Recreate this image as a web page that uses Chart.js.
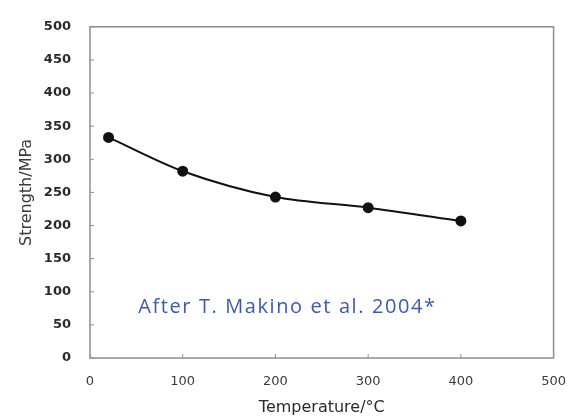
<!DOCTYPE html>
<html>
<head>
<meta charset="utf-8">
<script src="https://cdn.jsdelivr.net/npm/chart.js@4"></script>
<style>
  html, body { margin: 0; padding: 0; background: #fff; }
  #wrap { width: 582px; height: 420px; position: relative; }
</style>
</head>
<body>
<div id="wrap"><canvas id="strengthChart"></canvas></div>
<script>
// --- data ---
const temperatures = [20, 100, 200, 300, 400];
const strengths = [333, 282, 243, 227, 207];
const xTicks = [0, 100, 200, 300, 400, 500];
const yTicks = [0, 50, 100, 150, 200, 250, 300, 350, 400, 450, 500];
const noteText = 'After T. Makino et al. 2004*';

const axisGray = '#8f8f8f';

// box round the plot plus the small inward tick marks
const framePlugin = {
    id: 'frame',
    afterDraw(chart) {
        const { ctx, chartArea: a, scales } = chart;
        ctx.save();
        ctx.strokeStyle = axisGray;
        ctx.lineWidth = 1.5;
        ctx.strokeRect(a.left, a.top, a.right - a.left, a.bottom - a.top);
        ctx.lineWidth = 1;
        yTicks.forEach(v => {
            const y = scales.y.getPixelForValue(v);
            ctx.beginPath();
            ctx.moveTo(a.left, y);
            ctx.lineTo(a.left + 4, y);
            ctx.stroke();
        });
        xTicks.forEach(v => {
            const x = scales.x.getPixelForValue(v);
            ctx.beginPath();
            ctx.moveTo(x, a.bottom);
            ctx.lineTo(x, a.bottom - 4);
            ctx.stroke();
        });
        // source note
        ctx.fillStyle = 'rgb(60, 90, 168)';
        ctx.font = '400 20px "Open Sans"';
        ctx.letterSpacing = '1.6px';
        ctx.textBaseline = 'middle';
        ctx.fillText(noteText, scales.x.getPixelForValue(52), scales.y.getPixelForValue(77));
        ctx.restore();
    }
};

const ctx = document.getElementById('strengthChart').getContext('2d');
const strengthChart = new Chart(ctx, {
    type: 'line',
    data: {
        datasets: [{
            data: temperatures.map((t, i) => ({ x: t, y: strengths[i] })),
            borderColor: '#111',
            backgroundColor: '#111',
            borderWidth: 2,
            pointRadius: 4.5,
            tension: 0.3
        }]
    },
    options: {
        responsive: true,
        maintainAspectRatio: false,
        animation: false,
        layout: { padding: { left: 0, top: 9, right: 27, bottom: 0 } },
        plugins: {
            legend: { display: false },
            tooltip: { enabled: false }
        },
        scales: {
            x: {
                type: 'linear',
                min: 0,
                max: 500,
                afterBuildTicks: s => { s.ticks = xTicks.map(v => ({ value: v })); },
                afterFit: s => { s.height = 62; },
                grid: { display: false, drawTicks: false },
                border: { display: false },
                ticks: {
                    padding: 16,
                    color: '#3a3a3a',
                    font: { family: 'DejaVu Sans', size: 13 }
                },
                title: {
                    display: true,
                    text: 'Temperature/°C',
                    color: '#2a2a2a',
                    font: { family: 'DejaVu Sans', size: 16 },
                    padding: { top: 0, bottom: 3 }
                }
            },
            y: {
                min: 0,
                max: 500,
                afterBuildTicks: s => { s.ticks = yTicks.map(v => ({ value: v })); },
                afterFit: s => { s.width = 90; },
                grid: { display: false, drawTicks: false },
                border: { display: false },
                ticks: {
                    padding: 19,
                    color: '#2a2a2a',
                    font: { family: 'DejaVu Sans', size: 13, weight: 'bold' }
                },
                title: {
                    display: true,
                    text: 'Strength/MPa',
                    color: '#3a3a3a',
                    font: { family: 'DejaVu Sans', size: 16 },
                    padding: { top: 17, bottom: 0 }
                }
            }
        }
    },
    plugins: [framePlugin]
});
</script>
</body>
</html>
